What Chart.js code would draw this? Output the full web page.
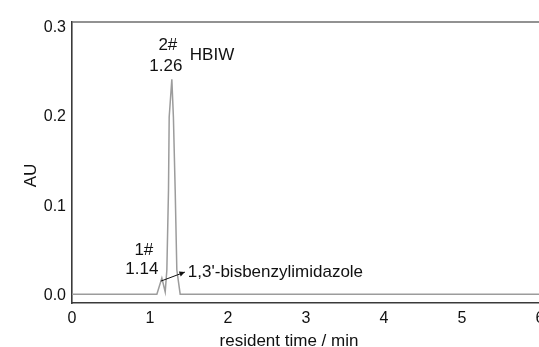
<!DOCTYPE html>
<html>
<head>
<meta charset="utf-8">
<script src="https://cdn.jsdelivr.net/npm/chart.js@4.4.1/dist/chart.umd.min.js"></script>
<style>
  html, body { margin: 0; padding: 0; background: #ffffff; overflow: hidden; }
  #wrap { width: 540px; height: 347px; }
</style>
</head>
<body>
<div id="wrap"><canvas id="c" width="540" height="347"></canvas></div>
<script>
// ---- data ----
const times      = [0, 0.5, 1.0, 1.088, 1.152, 1.195, 1.216, 1.237, 1.246, 1.280, 1.300, 1.323, 1.344, 1.387, 2, 3, 4, 5, 6];
const absorbance = [0.002, 0.002, 0.002, 0.002, 0.020, 0.0045, 0.029, 0.118, 0.200, 0.242, 0.200, 0.118, 0.029, 0.002, 0.002, 0.002, 0.002, 0.002, 0.002];
const xTicks = [0, 1, 2, 3, 4, 5, 6];
const yTicks = [0.0, 0.1, 0.2, 0.3];
const peakNames = ['1#', '2#'];
const peakTimes = [1.14, 1.26];
const peakApexX = [1.152, 1.280];
const peakApexY = [0.020, 0.242];
const compoundNames = ['1,3\'-bisbenzylimidazole', 'HBIW'];
const xTitle = 'resident time / min';
const yTitle = 'AU';

const FONT = "'Liberation Sans', Arial, Helvetica, sans-serif";
const AXIS = '#3a3a3a';

const annot = {
  id: 'annot',
  afterDraw(chart) {
    const ctx = chart.ctx, xs = chart.scales.x, ys = chart.scales.y, a = chart.chartArea;
    ctx.save();
    // top frame line
    ctx.strokeStyle = '#6e6e6e';
    ctx.lineWidth = 1.6;
    ctx.beginPath();
    ctx.moveTo(a.left, a.top);
    ctx.lineTo(a.right + 2, a.top);
    ctx.stroke();

    ctx.fillStyle = '#111';
    ctx.textAlign = 'center';
    ctx.textBaseline = 'middle';
    ctx.font = '17px ' + FONT;

    // peak 2
    const p2x = xs.getPixelForValue(peakApexX[1]);
    const p2y = ys.getPixelForValue(peakApexY[1]);
    ctx.fillText(peakNames[1], p2x - 4, p2y - 34);
    ctx.fillText(peakTimes[1].toFixed(2), p2x - 6, p2y - 13);
    ctx.textAlign = 'left';
    ctx.fillText(compoundNames[1], p2x + 18, p2y - 24);

    // peak 1
    const p1x = xs.getPixelForValue(peakApexX[0]);
    const p1y = ys.getPixelForValue(peakApexY[0]);
    ctx.textAlign = 'center';
    ctx.fillText(peakNames[0], p1x - 18, p1y - 28);
    ctx.fillText(peakTimes[0].toFixed(2), p1x - 20, p1y - 9);

    // arrow to compound name
    const sx = p1x - 1, sy = p1y + 3;
    const ex = p1x + 23, ey = p1y - 6;
    ctx.strokeStyle = '#111';
    ctx.lineWidth = 1;
    ctx.beginPath();
    ctx.moveTo(sx, sy);
    ctx.lineTo(ex, ey);
    ctx.stroke();
    const ang = Math.atan2(ey - sy, ex - sx);
    ctx.beginPath();
    ctx.moveTo(ex, ey);
    ctx.lineTo(ex - 6 * Math.cos(ang - 0.45), ey - 6 * Math.sin(ang - 0.45));
    ctx.lineTo(ex - 6 * Math.cos(ang + 0.45), ey - 6 * Math.sin(ang + 0.45));
    ctx.closePath();
    ctx.fill();
    ctx.textAlign = 'left';
    ctx.fillText(compoundNames[0], ex + 3, ey);

    // axis titles
    ctx.textAlign = 'center';
    ctx.textBaseline = 'alphabetic';
    ctx.fillText(xTitle, (a.left + a.right) / 2 - 17, 346);
    ctx.save();
    ctx.translate(31, (a.top + a.bottom) / 2 + 13);
    ctx.rotate(-Math.PI / 2);
    ctx.textBaseline = 'middle';
    ctx.fillText(yTitle, 0, 0);
    ctx.restore();
    ctx.restore();
  }
};

new Chart(document.getElementById('c'), {
  type: 'line',
  data: {
    datasets: [{
      data: times.map((t, i) => ({ x: t, y: absorbance[i] })),
      borderColor: '#9c9c9c',
      borderWidth: 1.5,
      pointRadius: 0,
      fill: false,
      tension: 0
    }]
  },
  options: {
    responsive: false,
    animation: false,
    layout: { padding: { left: 0, right: 0, top: 22, bottom: 0 } },
    plugins: { legend: { display: false }, tooltip: { enabled: false } },
    scales: {
      x: {
        type: 'linear',
        min: 0, max: 6,
        afterBuildTicks: s => { s.ticks = xTicks.map(v => ({ value: v })); },
        afterFit: s => { s.height = 44; s.paddingLeft = 0; s.paddingRight = 0; },
        grid: { display: false, drawTicks: false },
        border: { display: true, color: AXIS, width: 1.6 },
        ticks: { color: '#111', font: { family: FONT, size: 16 }, padding: 6, maxRotation: 0, callback: v => String(v) }
      },
      y: {
        type: 'linear',
        min: -0.0078, max: 0.3061,
        afterBuildTicks: s => { s.ticks = yTicks.map(v => ({ value: v })); },
        afterFit: s => { s.width = 72; s.paddingTop = 0; s.paddingBottom = 0; },
        grid: { display: false, drawTicks: false },
        border: { display: true, color: AXIS, width: 1.6 },
        ticks: { color: '#111', font: { family: FONT, size: 16 }, padding: 6, callback: v => v.toFixed(1) }
      }
    }
  },
  plugins: [annot]
});
</script>
</body>
</html>
